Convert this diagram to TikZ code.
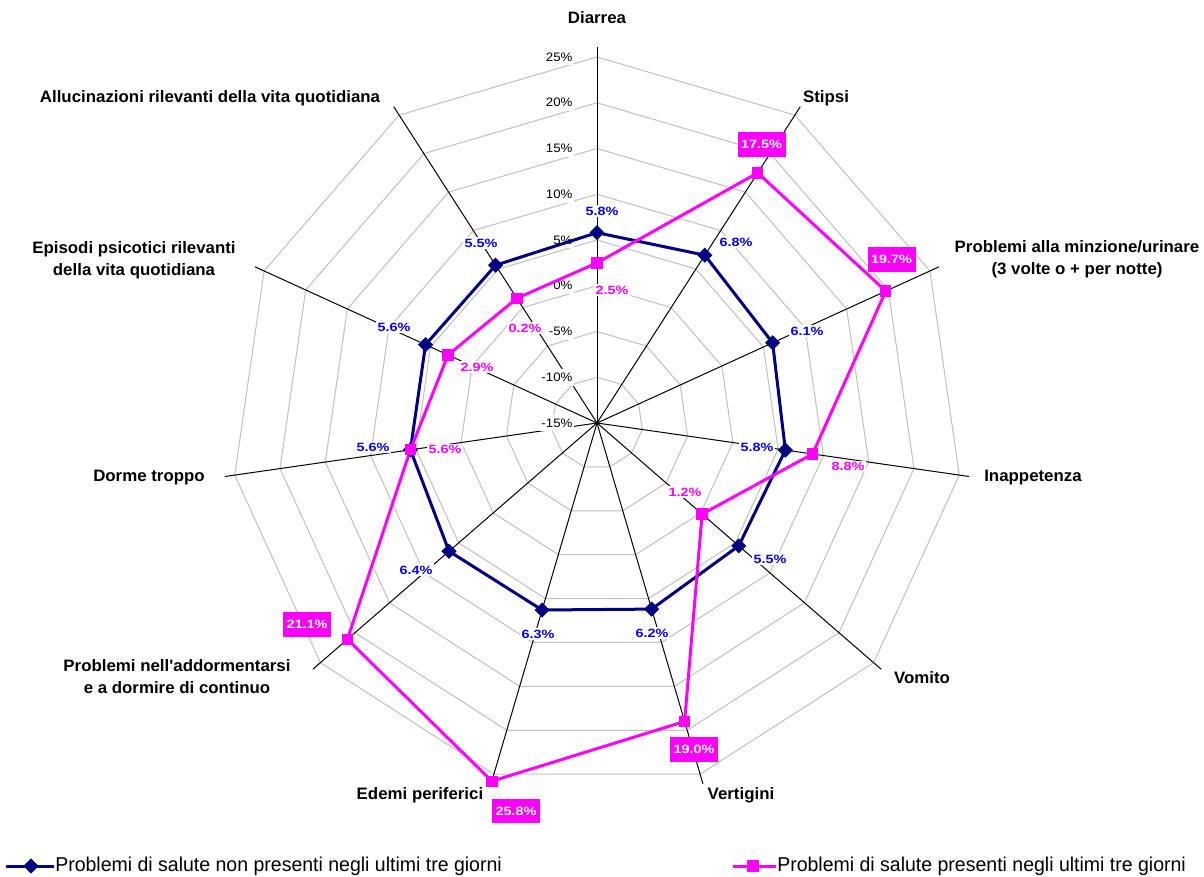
\documentclass[tikz,border=0pt]{standalone}
\usepackage{fontspec}
\setmainfont{Liberation Sans}
\newfontfamily\catf[FakeStretch=1.02]{Liberation Sans}
\newfontfamily\labf[FakeStretch=1.2]{Liberation Sans}
\newfontfamily\valf[FakeStretch=1.08]{Liberation Sans}
\newfontfamily\legf[FakeStretch=0.975]{Liberation Sans}
\usetikzlibrary{shapes.geometric}
\definecolor{navyc}{RGB}{0,0,128}
\definecolor{lblue}{RGB}{0,0,255}
\definecolor{magc}{RGB}{255,0,255}
\definecolor{gridc}{RGB}{192,192,192}
\tikzset{
 gridline/.style={draw=gridc, line width=0.75pt},
 spoke/.style={draw=black, line width=0.75pt},
 navyline/.style={draw=navyc, line width=2.25pt, line join=round},
 magline/.style={draw=magc, line width=2.25pt, line join=round},
 bmark/.style={diamond, fill=navyc, inner sep=0pt, minimum size=11.5pt},
 pmark/.style={rectangle, fill=magc, inner sep=0pt, minimum size=8.5pt},
 cat/.style={font=\catf\bfseries\fontsize{12.4}{16.5}\selectfont, align=center, text=black, inner sep=1pt},
 vlab/.style={font=\valf\fontsize{9.2}{10}\selectfont, fill=white, inner xsep=1pt, inner ysep=3pt, anchor=east},
 blab/.style={font=\labf\bfseries\fontsize{9}{10}\selectfont, text=lblue, fill=white, inner sep=1pt},
 plab/.style={font=\labf\bfseries\fontsize{9}{10}\selectfont, text=magc, fill=white, inner sep=1pt},
 pbox/.style={font=\labf\bfseries\fontsize{9}{10}\selectfont, text=white, fill=magc, inner sep=0pt, minimum width=36pt, minimum height=18.5pt},
 legt/.style={font=\legf\fontsize{15}{17}\selectfont, anchor=west, inner sep=0pt},
}
\begin{document}
\begin{tikzpicture}[x=0.75pt,y=-0.75pt]
\useasboundingbox (0,0) rectangle (1204,877);
\fill[white] (0,0) rectangle (1204,877);
\def\cx{597}\def\cy{423}\def\sc{9.15}
\coordinate (O) at (\cx,\cy);
% coordinates
\foreach \i/\b/\p in {0/5.8/2.5,1/6.8/17.5,2/6.1/19.7,3/5.8/8.8,4/5.5/0.2,5/6.2/19.0,6/6.3/25.8,7/6.4/21.1,8/5.6/5.6,9/5.6/2.9,10/5.5/1.2}{
  \pgfmathsetmacro\ang{90-\i*360/11}
  \pgfmathsetmacro\rb{(\b+15)*\sc}
  \pgfmathsetmacro\rp{(\p+15)*\sc}
  \coordinate (b\i) at ({\cx+\rb*cos(\ang)},{\cy-\rb*sin(\ang)});
  \coordinate (p\i) at ({\cx+\rp*cos(\ang)},{\cy-\rp*sin(\ang)});
  \coordinate (s\i) at ({\cx+376*cos(\ang)},{\cy-376*sin(\ang)});
}
% grid rings
\foreach \v in {-10,-5,0,5,10,15,20,25}{
  \pgfmathsetmacro\r{(\v+15)*\sc}
  \draw[gridline] (\cx,{\cy-\r}) \foreach \i in {1,...,10}{ -- ({\cx+\r*cos(90-\i*360/11)},{\cy-\r*sin(90-\i*360/11)}) } -- cycle;
}
% spokes
\foreach \i in {0,...,10}{ \draw[spoke] (O) -- (s\i); }
% value axis labels
\foreach \v [count=\k] in {25,20,15,10,5,0,-5,-10,-15}{
  \node[vlab] (val\k) at (574,{\cy-(\v+15)*\sc}) {\v\%};
}
% series
\draw[navyline] (b0) -- (b1) -- (b2) -- (b3) -- (b4) -- (b5) -- (b6) -- (b7) -- (b8) -- (b9) -- (b10) -- cycle;
\draw[magline] (p0) -- (p1) -- (p2) -- (p3) -- (p4) -- (p5) -- (p6) -- (p7) -- (p8) -- (p9) -- (p10) -- cycle;
\foreach \i in {0,...,10}{ \node[bmark] (bm\i) at (b\i) {}; }
\foreach \i in {0,...,10}{ \node[pmark] (pm\i) at (p\i) {}; }
% blue data labels
\node[blab] (bl0) at (602,211) {5.8\%};
\node[blab] (bl1) at (736,242) {6.8\%};
\node[blab] (bl2) at (807,331) {6.1\%};
\node[blab] (bl3) at (757,447) {5.8\%};
\node[blab] (bl4) at (770,559) {5.5\%};
\node[blab] (bl5) at (652,633) {6.2\%};
\node[blab] (bl6) at (538,634) {6.3\%};
\node[blab] (bl7) at (416,570) {6.4\%};
\node[blab] (bl8) at (373,447) {5.6\%};
\node[blab] (bl9) at (394,327) {5.6\%};
\node[blab] (bl10) at (481,243) {5.5\%};
% pink data labels
\node[plab] (pl0) at (612,290) {2.5\%};
\node[pbox] (pl1) at (761.5,144.5) {17.5\%};
\node[pbox] (pl2) at (891.5,259.5) {19.7\%};
\node[plab] (pl3) at (848,466.5) {8.8\%};
\node[plab] (pl4) at (685,492) {1.2\%};
\node[pbox] (pl5) at (694,749.5) {19.0\%};
\node[pbox] (pl6) at (516,811) {25.8\%};
\node[pbox] (pl7) at (307,624.5) {21.1\%};
\node[plab] (pl8) at (445,449.5) {5.6\%};
\node[plab] (pl9) at (477,367) {2.9\%};
\node[plab] (pl10) at (525,328) {0.2\%};
% category labels
\node[cat] (cat0) at (597,18) {Diarrea};
\node[cat] (cat1) at (826,98) {Stipsi};
\node[cat] (cat2) at (1077,259) {Problemi alla minzione/urinare\\(3 volte o + per notte)};
\node[cat] (cat3) at (1033,478) {Inappetenza};
\node[cat] (cat4) at (922,678) {Vomito};
\node[cat] (cat5) at (741,795) {Vertigini};
\node[cat] (cat6) at (420,795) {Edemi periferici};
\node[cat] (cat7) at (177,677) {Problemi nell'addormentarsi\\e a dormire di continuo};
\node[cat] (cat8) at (149,478) {Dorme troppo};
\node[cat] (cat9) at (134,260) {Episodi psicotici rilevanti\\della vita quotidiana};
\node[cat] (cat10) at (210,98) {Allucinazioni rilevanti della vita quotidiana};
% legend
\coordinate (la1) at (6,866); \coordinate (lb1) at (54,866);
\draw[navyc, line width=2.25pt] (la1) -- (lb1);
\node[bmark] (lm1) at (31,866) {};
\node[legt] (lt1) at (55,866) {Problemi di salute non presenti negli ultimi tre giorni};
\coordinate (la2) at (733,866); \coordinate (lb2) at (776,866);
\draw[magc, line width=2.25pt] (la2) -- (lb2);
\node[pmark] (lm2) at (753,866) {};
\node[legt] (lt2) at (777,866) {Problemi di salute presenti negli ultimi tre giorni};
\end{tikzpicture}
\end{document}
